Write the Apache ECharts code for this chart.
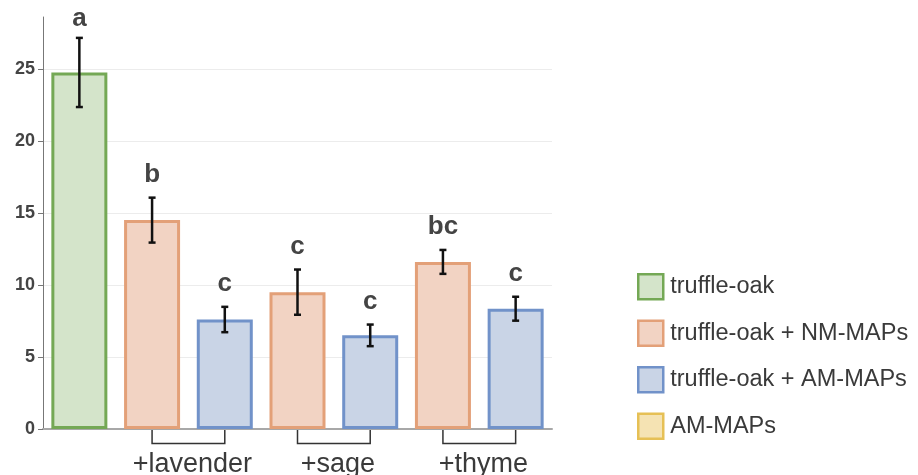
<!DOCTYPE html>
<html>
<head>
<meta charset="utf-8">
<script src="https://cdn.jsdelivr.net/npm/echarts@6/dist/echarts.min.js"></script>
<style>
  html, body { margin: 0; padding: 0; background: #fff; }
  #chart { width: 918px; height: 475px; }
</style>
</head>
<body>
<div id="chart"></div>
<script>
// ---- data ----
const categories = ['truffle-oak', '+lavender NM', '+lavender AM', '+sage NM', '+sage AM', '+thyme NM', '+thyme AM'];
const oakMeans = [24.75, '-', '-', '-', '-', '-', '-'];
const nmMeans  = ['-', 14.5, '-', 9.5, '-', 11.6, '-'];
const amMeans  = ['-', '-', 7.6, '-', 6.5, '-', 8.35];
const amMapsMeans = ['-', '-', '-', '-', '-', '-', '-'];
const means  = [24.75, 14.5, 7.6, 9.5, 6.5, 11.6, 8.35];
const errors = [2.4, 1.56, 0.88, 1.57, 0.75, 0.83, 0.83];
const letters = ['a', 'b', 'c', 'c', 'c', 'bc', 'c'];
const groupLabels = ['+lavender', '+sage', '+thyme'];
const groupMembers = [[1, 2], [3, 4], [5, 6]];
const yTicks = [0, 5, 10, 15, 20, 25];
const seriesNames = ['truffle-oak', 'truffle-oak + NM-MAPs', 'truffle-oak + AM-MAPs', 'AM-MAPs'];

const FONT = 'Liberation Sans, Arial, sans-serif';
const styles = [
  { color: '#d4e4ca', borderColor: '#74a855' },
  { color: '#f2d3c3', borderColor: '#e3a078' },
  { color: '#c9d4e6', borderColor: '#7192c9' },
  { color: '#f5e3b3', borderColor: '#e6c055' }
];

const chart = echarts.init(document.getElementById('chart'), null, { renderer: 'canvas' });

function barSeries(name, data, st) {
  return {
    name: name,
    type: 'bar',
    stack: 'all',
    data: data,
    barWidth: 56,
    itemStyle: { color: st.color, borderColor: st.borderColor, borderWidth: 3 },
    emphasis: { disabled: true }
  };
}

const option = {
  animation: false,
  backgroundColor: '#fff',
  grid: { left: 43, right: 366, top: 17, bottom: 46, containLabel: false },
  legend: {
    orient: 'vertical',
    left: 632,
    top: 268,
    itemWidth: 25,
    itemHeight: 25,
    itemGap: 19,
    icon: 'rect',
    selectedMode: false,
    data: seriesNames.map((n, i) => ({
      name: n,
      itemStyle: { color: styles[i].color, borderColor: styles[i].borderColor, borderWidth: 2.5 }
    })),
    textStyle: { fontFamily: FONT, fontSize: 23.5, color: '#3a3a3a', padding: [0, 0, 0, 2] }
  },
  xAxis: {
    type: 'category',
    data: categories,
    axisLine: { lineStyle: { color: '#a8a8a8', width: 2 } },
    axisTick: { show: false },
    axisLabel: { show: false },
    splitLine: { show: false }
  },
  yAxis: {
    type: 'value',
    min: 0,
    max: 28.6,
    axisLine: { show: true, lineStyle: { color: '#777', width: 1 } },
    axisTick: { show: true, length: 5, customValues: yTicks, lineStyle: { color: '#777' } },
    axisLabel: {
      customValues: yTicks,
      margin: 8,
      fontFamily: FONT,
      fontSize: 18,
      fontWeight: 'bold',
      color: '#444'
    },
    splitLine: { show: true, lineStyle: { color: '#ececec', width: 1 } }
  },
  series: [
    barSeries(seriesNames[0], oakMeans, styles[0]),
    barSeries(seriesNames[1], nmMeans, styles[1]),
    barSeries(seriesNames[2], amMeans, styles[2]),
    barSeries(seriesNames[3], amMapsMeans, styles[3]),
    {
      name: 'errors',
      type: 'custom',
      z: 5,
      data: means.map((m, i) => [i, m, errors[i]]),
      renderItem: function (params, api) {
        const x = api.value(0), m = api.value(1), e = api.value(2);
        const top = api.coord([x, m + e]);
        const bot = api.coord([x, m - e]);
        const cap = 3.5;
        const ls = { stroke: '#111', lineWidth: 2.5 };
        const off = params.dataIndex === 0 ? 19 : 23;
        return {
          type: 'group',
          children: [
            { type: 'line', shape: { x1: top[0], y1: top[1], x2: bot[0], y2: bot[1] }, style: ls },
            { type: 'line', shape: { x1: top[0] - cap, y1: top[1], x2: top[0] + cap, y2: top[1] }, style: ls },
            { type: 'line', shape: { x1: bot[0] - cap, y1: bot[1], x2: bot[0] + cap, y2: bot[1] }, style: ls },
            {
              type: 'text',
              style: {
                text: letters[params.dataIndex],
                x: top[0], y: top[1] - off,
                align: 'center', verticalAlign: 'middle',
                font: 'bold 26px ' + FONT,
                fill: '#444'
              }
            }
          ]
        };
      }
    },
    {
      name: 'groups',
      type: 'custom',
      z: 5,
      clip: false,
      data: groupMembers.map(g => [g[0], g[1]]),
      renderItem: function (params, api) {
        const a = api.coord([api.value(0), 0]);
        const b = api.coord([api.value(1), 0]);
        const y0 = a[1] + 1;
        const y1 = a[1] + 14.5;
        return {
          type: 'group',
          children: [
            {
              type: 'polyline',
              shape: { points: [[a[0], y0], [a[0], y1], [b[0], y1], [b[0], y0]] },
              style: { stroke: '#333', lineWidth: 1.5, fill: null }
            },
            {
              type: 'text',
              style: {
                text: groupLabels[params.dataIndex],
                x: (a[0] + b[0]) / 2 + 4, y: y1 + 21,
                align: 'center', verticalAlign: 'middle',
                font: '27px ' + FONT,
                fill: '#3a3a3a'
              }
            }
          ]
        };
      }
    }
  ]
};

chart.setOption(option);
</script>
</body>
</html>
